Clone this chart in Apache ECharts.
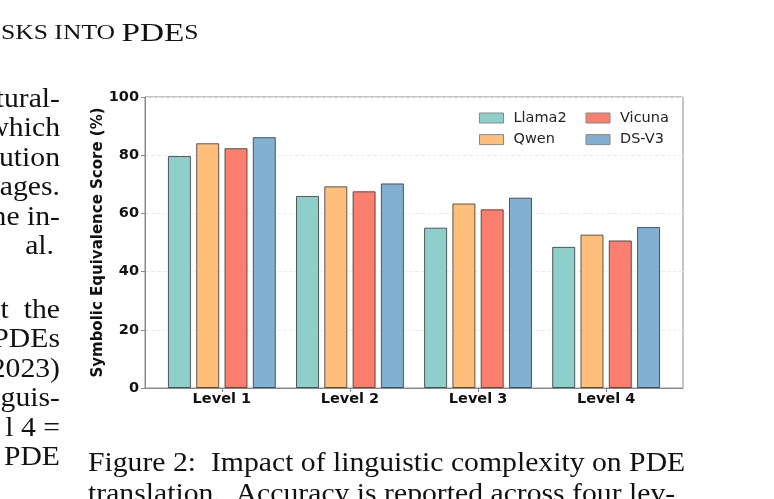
<!DOCTYPE html>
<html>
<head>
<meta charset="utf-8">
<style>
  html, body { margin: 0; padding: 0; background: #fff; }
  #main { width: 774px; height: 499px; }
</style>
<script src="https://cdn.jsdelivr.net/npm/echarts@6/dist/echarts.min.js"></script>
</head>
<body>
<div id="main"></div>
<script>
const levels = ['Level 1', 'Level 2', 'Level 3', 'Level 4'];
const llama2 = [79.7, 66.0, 55.1, 48.5];
const qwen = [84.1, 69.3, 63.4, 52.7];
const vicuna = [82.4, 67.6, 61.4, 50.7];
const dsv3 = [86.2, 70.3, 65.4, 55.3];
const levelPos = [0, 1, 2, 3];

// surrounding page text (right edge of left column, caption, header)
const colLeft1 = ['tural-', 'which', 'ution', 'ages.', 'ne in-', 'al.'];
const colLeft2 = ['t  the', 'PDEs', '2023)', 'guis-', 'l 4 =', 'PDE'];
const caption = [
  'Figure 2:  Impact of linguistic complexity on PDE',
  'translation.  Accuracy is reported across four lev-'
];

const serif = '"Liberation Serif", "Times New Roman", serif';
const pageFs = 27;
const stretch = 1.1;

function pageLine(t, x, y, align) {
  return {
    type: 'text', x: x, y: y, scaleX: stretch,
    style: { text: t, fontFamily: serif, fontSize: pageFs, fill: '#111', align: align, verticalAlign: 'middle' }
  };
}

const pageText = [];
colLeft1.forEach((t, i) => pageText.push(pageLine(t, t === 'al.' ? 54 : 60, 100 + i * 29.4, 'right')));
colLeft2.forEach((t, i) => pageText.push(pageLine(t, 60, 311 + i * 29.4, 'right')));
caption.forEach((t, i) => pageText.push(pageLine(t, 88, 464 + i * 31, 'left')));
pageText.push({
  type: 'text', x: 1, y: 34, scaleX: 1.28,
  style: {
    text: '{sc|SKS INTO }{big|PDE}{sc|S}',
    fontFamily: serif, fill: '#111', verticalAlign: 'middle',
    rich: {
      sc: { fontFamily: serif, fontSize: 20, fill: '#111' },
      big: { fontFamily: serif, fontSize: 26, fill: '#111' }
    }
  }
});

const names = ['Llama2', 'Qwen', 'Vicuna', 'DS-V3'];
const colors = ['#8ECFC9', '#FFBE7A', '#FA7F6F', '#82B0D2'];
const values = [llama2, qwen, vicuna, dsv3];

const legendBase = {
  orient: 'vertical',
  top: 110,
  padding: 0,
  itemWidth: 24,
  itemHeight: 10,
  itemGap: 5.6,
  icon: 'rect',
  itemStyle: { borderColor: '#888', borderWidth: 1 },
  textStyle: { fontFamily: 'DejaVu Sans', fontSize: 14.5, color: '#222', lineHeight: 16, padding: [0, 0, 0, 5] }
};

const option = {
  animation: false,
  backgroundColor: '#fff',
  graphic: pageText,
  legend: [
    Object.assign({}, legendBase, { left: 479, data: ['Llama2', 'Qwen'] }),
    Object.assign({}, legendBase, { left: 585.5, data: ['Vicuna', 'DS-V3'] })
  ],
  grid: {
    left: 145, right: 91, top: 97, bottom: 111,
    show: true, borderColor: '#8a8a8a', borderWidth: 1
  },
  xAxis: {
    type: 'value',
    min: -0.6,
    max: 3.6,
    splitLine: { show: false },
    axisLine: { onZero: false, lineStyle: { color: '#8a8a8a', width: 1 } },
    axisTick: { customValues: levelPos, length: 4, lineStyle: { color: '#8a8a8a' } },
    axisLabel: {
      customValues: levelPos,
      formatter: (v) => levels[Math.round(v)],
      fontFamily: 'DejaVu Sans', fontWeight: 'bold', fontSize: 14.5, color: '#111', margin: 4
    }
  },
  yAxis: {
    type: 'value',
    min: 0,
    max: 100,
    interval: 20,
    name: 'Symbolic Equivalence Score (%)',
    nameLocation: 'middle',
    nameGap: 39,
    nameMoveOverlap: false,
    nameTextStyle: { fontFamily: 'DejaVu Sans', fontWeight: 'bold', fontSize: 15, color: '#111' },
    axisLine: { show: true, onZero: false, lineStyle: { color: '#8a8a8a', width: 1 } },
    axisTick: { show: true, length: 4, lineStyle: { color: '#8a8a8a' } },
    axisLabel: { fontFamily: 'DejaVu Sans', fontWeight: 'bold', fontSize: 14.5, color: '#111', margin: 6 },
    splitLine: { show: true, lineStyle: { color: '#ececec', type: 'dashed', width: 1 } }
  },
  series: names.map((n, k) => ({
    name: n,
    type: 'bar',
    barWidth: 23,
    barGap: '23%',
    data: values[k].map((v, i) => [levelPos[i], v]),
    itemStyle: { color: colors[k], borderColor: 'rgba(40,40,40,0.75)', borderWidth: 1 }
  }))
};

const chart = echarts.init(document.getElementById('main'), null, { renderer: 'canvas' });
chart.setOption(option);
</script>
</body>
</html>
